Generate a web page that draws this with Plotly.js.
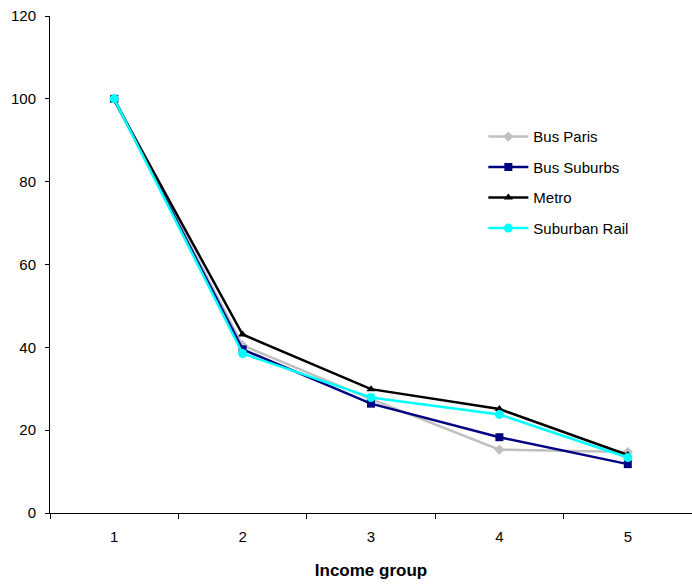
<!DOCTYPE html>
<html><head><meta charset="utf-8">
<script src="https://cdn.plot.ly/plotly-3.0.1.min.js"></script>
<style>html,body{margin:0;padding:0;background:#fff;}#chart{width:692px;height:586px;}</style>
</head><body><div id="chart"></div>
<script>
const categories = ["1","2","3","4","5"];
const busParis = [100, 40.5, 27.5, 15.3, 14.7];
const busSuburbs = [100, 39.5, 26.4, 18.3, 11.8];
const metro = [99.7, 43.1, 29.9, 25.1, 14.0];
const suburbanRail = [100, 38.5, 27.9, 23.8, 13.4];

const seriesNames = ["Bus Paris","Bus Suburbs","Metro","Suburban Rail"];
const seriesData = [busParis, busSuburbs, metro, suburbanRail];
const colors = ["#C0C0C0","#000080","#000000","#00FFFF"];
const symbols = ["diamond","square","triangle-up","circle"];
const sizes = [8,8,8,9];

const traces = seriesData.map((d,i)=>({
  type:'scatter', mode:'lines+markers', x:categories, y:d, name:seriesNames[i],
  legendgroup:'g'+i,
  line:{color:colors[i], width:2.5},
  marker:{color:colors[i], symbol:symbols[i], size:sizes[i]}
}));

const layout = {
  width:692, height:586,
  margin:{l:50, r:0, t:16, b:73},
  paper_bgcolor:'#fff', plot_bgcolor:'#fff',
  font:{family:'Liberation Sans, Arial, sans-serif', size:15, color:'#000'},
  showlegend:true,
  legend:{x:0.675, y:0.79, xanchor:'left', yanchor:'top', bgcolor:'rgba(0,0,0,0)',
    font:{size:15}, tracegroupgap:8, itemwidth:40},
  xaxis:{type:'category', range:[-0.5,4.5], showgrid:false, zeroline:false,
    showline:true, linecolor:'#000', linewidth:1, ticks:'outside', ticklen:5, tickcolor:'#000',
    ticklabelstandoff:10,
    tickson:'boundaries', title:{text:'<b>Income group</b>', font:{size:17}, standoff:20}},
  yaxis:{range:[0,120], dtick:20, showgrid:false, zeroline:false,
    showline:true, linecolor:'#000', linewidth:1, ticks:'outside', ticklen:4, tickcolor:'#000',
    ticklabelstandoff:6}
};
Plotly.newPlot('chart', traces, layout, {displayModeBar:false, staticPlot:true});
</script></body></html>
